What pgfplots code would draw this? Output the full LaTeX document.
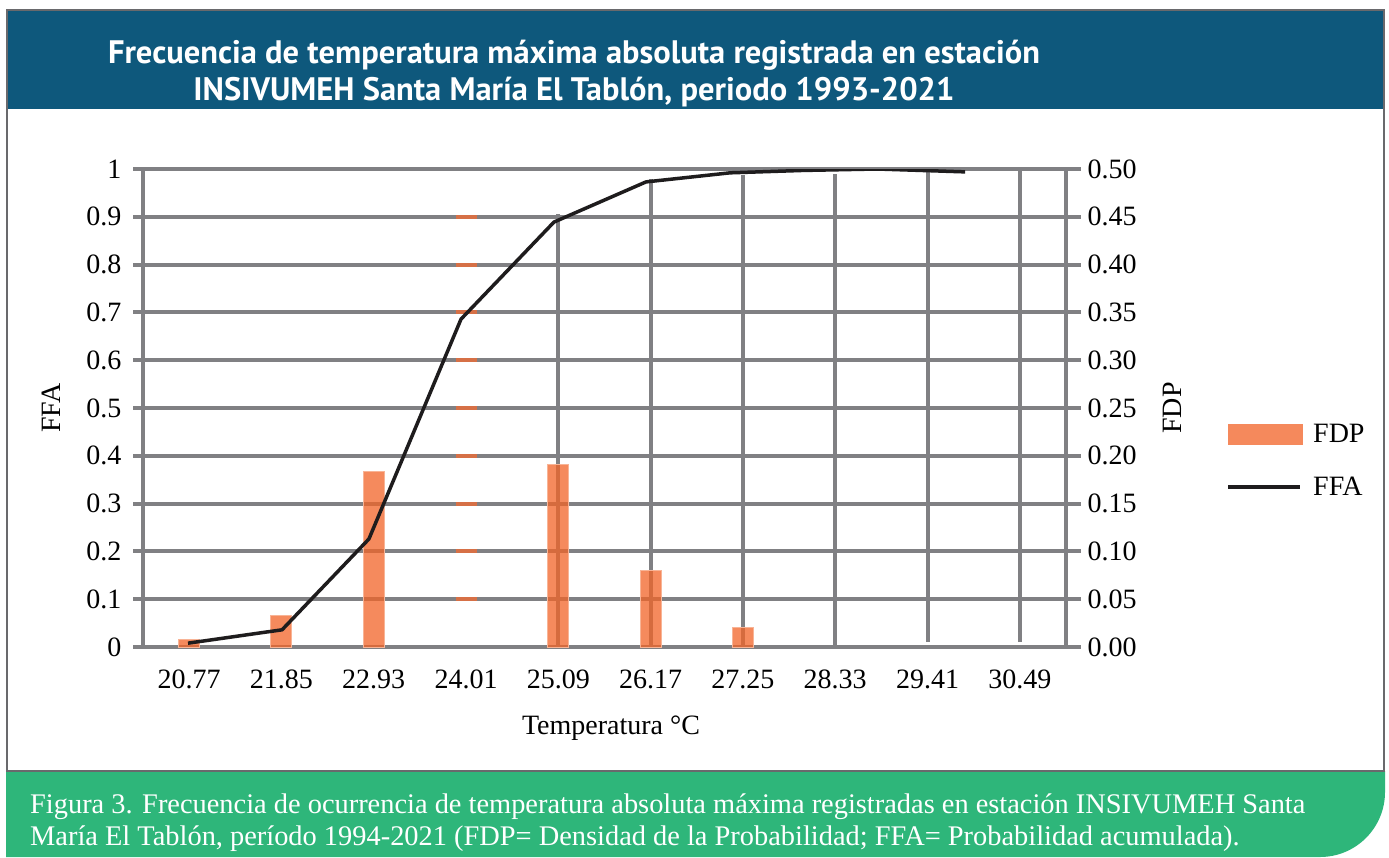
\documentclass[border=0pt]{standalone}
\usepackage{pgfplots}
\pgfplotsset{compat=1.18}
\usepackage{fontspec}
\setmainfont{Liberation Serif}
\newfontfamily\titlefont{PT Sans}

\definecolor{banner}{RGB}{14,88,124}
\definecolor{capgreen}{RGB}{46,182,122}
\definecolor{gridg}{RGB}{128,128,131}
\definecolor{barfill}{RGB}{242,100,40}
\definecolor{baredge}{RGB}{248,180,150}
\definecolor{legorange}{RGB}{245,137,92}
\definecolor{dashorange}{RGB}{214,112,70}
\definecolor{frameg}{RGB}{105,105,108}
\definecolor{ffaline}{RGB}{30,28,29}

\pgfplotsset{
  base/.style={
    scale only axis, width=948pt, height=478pt,
    at={(133pt,-647pt)}, anchor=south west,
    xmin=-0.608, xmax=9.663,
    axis line style={draw=none}, tick style={draw=none},
    ticklabel style={font=\fontsize{28}{30}\selectfont},
    label style={font=\fontsize{28}{30}\selectfont},
    /pgf/number format/assume math mode=true,
    /pgf/number format/fixed,
  }
}

\begin{document}
\begin{tikzpicture}[x=1pt,y=1pt]
\useasboundingbox (0,0) rectangle (1389,-857);
\fill[white] (0,0) rectangle (1389,-857);
% banners
\fill[banner] (7,-10) rectangle (1384,-109);
\fill[capgreen] (6,-771) -- (1385,-771) -- (1385,-792) arc[start angle=0, end angle=-90, radius=65] -- (6,-857) -- cycle;
\draw[frameg, line width=2pt] (7,-10) rectangle (1384,-771);

\node[text=white, anchor=base, inner sep=0pt, font=\titlefont\bfseries\fontsize{32.5}{36}\selectfont]
  at (574,-63) {Frecuencia de temperatura máxima absoluta registrada en estación};
\node[text=white, anchor=base, inner sep=0pt, font=\titlefont\bfseries\fontsize{32.5}{36}\selectfont]
  at (574,-100) {INSIVUMEH Santa María El Tablón, periodo 1993-2021};

\node[text=white, anchor=base west, inner sep=0pt, font=\fontsize{28.4}{30}\selectfont]
  at (30,-813) {Figura 3. Frecuencia de ocurrencia de temperatura absoluta máxima registradas en estación INSIVUMEH Santa};
\node[text=white, anchor=base west, inner sep=0pt, font=\fontsize{28.4}{30}\selectfont]
  at (30,-845) {María El Tablón, período 1994-2021 (FDP= Densidad de la Probabilidad; FFA= Probabilidad acumulada).};

% grid, FFA ticks, temperature ticks
\begin{axis}[base,
  ymin=0, ymax=1,
  ytick={0,0.1,0.2,0.3,0.4,0.5,0.6,0.7,0.8,0.9,1},
  ymajorgrids, grid style={gridg, line width=4pt},
  xtick={0,1,2,3,4,5,6,7,8,9},
  xticklabels={20.77,21.85,22.93,24.01,25.09,26.17,27.25,28.33,29.41,30.49},
  xticklabel style={yshift=-19pt},
  yticklabel style={xshift=-8pt},
  xlabel={Temperatura °C},
  xlabel style={at={(rel axis cs:0.5,-0.169)}, anchor=center, xshift=4pt},
  ylabel={FFA},
  ylabel style={at={(rel axis cs:-0.0865,0.5)}, anchor=center},
]
\draw[gridg, line width=4pt] (axis cs:-0.5,0) -- (axis cs:-0.5,1.013);
\draw[gridg, line width=4pt] (axis cs:4,0) -- (axis cs:4,0.906);
\draw[gridg, line width=4pt] (axis cs:5,0) -- (axis cs:5,0.979);
\draw[gridg, line width=4pt] (axis cs:6,0) -- (axis cs:6,0.987);
\draw[gridg, line width=4pt] (axis cs:7,0.004) -- (axis cs:7,0.99);
\draw[gridg, line width=4pt] (axis cs:8,0.01) -- (axis cs:8,0.996);
\draw[gridg, line width=4pt] (axis cs:9,0.01) -- (axis cs:9,0.998);
\draw[gridg, line width=4pt] (axis cs:9.5,0) -- (axis cs:9.5,1.002);
\addplot[only marks, mark=-, mark size=10.5pt, mark options={dashorange, line width=4pt}]
  coordinates {(3,0.1) (3,0.2) (3,0.3) (3,0.4) (3,0.5) (3,0.6) (3,0.7) (3,0.8) (3,0.9)};
\end{axis}

% FDP bars on the right axis
\begin{axis}[base,
  ymin=0, ymax=0.5,
  hide x axis,
  yticklabel pos=right,
  ytick={0,0.05,0.1,0.15,0.2,0.25,0.3,0.35,0.4,0.45,0.5},
  yticklabel style={xshift=3pt, /pgf/number format/.cd, fixed, fixed zerofill, precision=2},
  ylabel={FDP},
  ylabel style={at={(rel axis cs:1.096,0.5)}, anchor=center, rotate=0},
]
\addplot[ybar, bar width=21pt, fill=barfill, fill opacity=0.75, draw=baredge, line width=1pt]
  coordinates {(0,0.008) (1,0.033) (2,0.184) (4,0.191) (5,0.080) (6,0.020)};
\end{axis}

% FFA line and legend
\begin{axis}[base,
  ymin=0, ymax=1,
  hide axis,
  legend cell align=left,
  legend style={draw=none, fill=none, inner sep=0pt,
    at={(rel axis cs:1.153,0.471)}, anchor=north west,
    font=\fontsize{28}{30}\selectfont, row sep=29pt,
    /tikz/every odd column/.append style={column sep=9pt}},
]
\addlegendimage{legend image code/.code={\fill[legorange] (0pt,-10pt) rectangle (74pt,10pt);}}
\addlegendentry{FDP}
\addplot[ffaline, line width=3.5pt, line join=round,
  legend image code/.code={\draw[ffaline, line width=3.5pt] (0pt,0pt) -- (72pt,0pt);}]
  coordinates {(-0.012,0.008) (1.007,0.036) (1.948,0.226) (2.946,0.686) (3.953,0.889)
               (4.950,0.973) (5.860,0.992) (6.651,0.997) (7.453,1.000) (8.407,0.994)};
\addlegendentry{FFA}
\end{axis}
\end{tikzpicture}
\end{document}
